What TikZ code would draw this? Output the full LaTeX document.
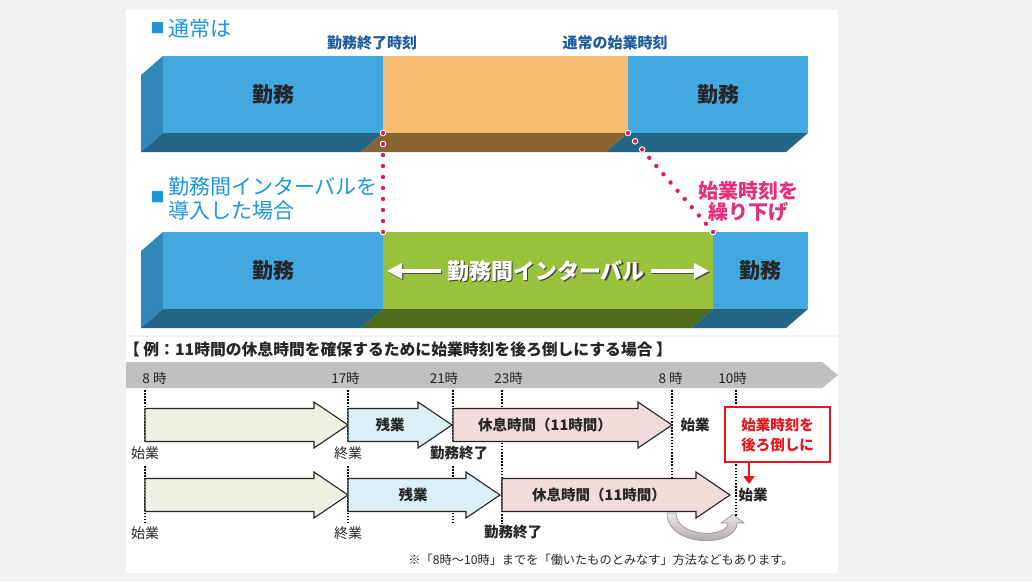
\documentclass[tikz,border=0pt]{standalone}
\usepackage{fontspec}
\newfontfamily\jp{Noto Sans CJK JP}
\usetikzlibrary{arrows.meta,calc}
\definecolor{bfront}{HTML}{41A8E0}
\definecolor{bside}{HTML}{3088B8}
\definecolor{bbot}{HTML}{236688}
\definecolor{ofront}{HTML}{F5BB6F}
\definecolor{obot}{HTML}{876430}
\definecolor{gfront}{HTML}{99C13C}
\definecolor{gbot}{HTML}{4E6B1B}
\definecolor{pinkdot}{HTML}{E0185C}
\definecolor{pinktxt}{HTML}{E3307C}
\definecolor{ttlblue}{HTML}{1E97D9}
\definecolor{lblblue}{HTML}{1D5CA0}
\definecolor{tlgray}{HTML}{C0C0C0}
\definecolor{afillA}{HTML}{EEF1E2}
\definecolor{afillB}{HTML}{DCEEF6}
\definecolor{afillC}{HTML}{F2DCDB}
\definecolor{redbx}{HTML}{E8141B}
\definecolor{bg}{HTML}{F2F2F2}
\definecolor{txt}{HTML}{262626}
\definecolor{curvA}{HTML}{EFE8E8}
\definecolor{curvB}{HTML}{A39C9C}
\newcommand\fsz[1]{\fontsize{#1}{#1}\selectfont}
\newcommand\slab[6]{%
  \fill[#6] (#1,#4) -- (#2,#4) -- (#2-22,#4+19) -- (#1-22,#4+19) -- cycle;
  \fill[#5] (#1,#3) rectangle (#2,#4);}
\newcommand\tlarrow[4]{%
  \filldraw[tlline, fill=#4] (#1,#3-16.5) -- (#2-34,#3-16.5) -- (#2-34,#3-23) -- (#2,#3) -- (#2-34,#3+23) -- (#2-34,#3+16.5) -- (#1,#3+16.5) -- cycle;}
\begin{document}
\begin{tikzpicture}[x=1pt,y=-1pt,
  every node/.style={inner sep=0pt, outer sep=0pt},
  boxtxt/.style={font=\jp\bfseries\fsz{21}, text=txt},
  tltxt/.style={font=\jp\fsz{13.5}, text=txt},
  lbl/.style={font=\jp\fsz{14}, text=txt},
  blbl/.style={font=\jp\bfseries\fsz{14.5}, text=txt},
  ttl/.style={font=\jp\fsz{21}, text=ttlblue, anchor=west},
  sq/.style={font=\jp\fsz{14}, text=ttlblue},
  tlline/.style={draw=txt, line width=1.1pt, line join=miter},
  tdot/.style={black, line width=1.4pt, dash pattern=on 1.5pt off 1.6pt},
  pdot/.style={fill=pinkdot, draw=white, line width=0.9pt}]

\useasboundingbox (0,0) rectangle (1032,581);
\fill[bg] (0,0) rectangle (1032,581);
\fill[white] (126,10) rectangle (838,573);
\draw[bg, line width=1.2pt] (126,336) -- (838,336);

% ---------- top row (normal) ----------
\fill[bside] (141,75) -- (163,56) -- (163,133) -- (141,152) -- cycle;
\slab{163}{383}{56}{133}{bfront}{bbot}
\slab{383}{628}{56}{133}{ofront}{obot}
\slab{628}{808}{56}{133}{bfront}{bbot}
\node[boxtxt] (w1) at (273,95) {勤務};
\node[boxtxt] (w2) at (718,95) {勤務};

% ---------- second row (interval) ----------
\fill[bside] (141,251) -- (163,232) -- (163,309) -- (141,328) -- cycle;
\slab{163}{383}{232}{309}{bfront}{bbot}
\slab{383}{713}{232}{309}{gfront}{gbot}
\slab{713}{808}{232}{309}{bfront}{bbot}
\node[boxtxt] (w3) at (273,271) {勤務};
\node[boxtxt] (w4) at (760,271) {勤務};

% interval label with arrows
\node[font=\jp\bfseries\fsz{22}, text=black!75] (gts) at (547.3,272.3) {勤務間インターバル};
\node[font=\jp\bfseries\fsz{22}, text=white] (gt) at (546,271) {勤務間インターバル};
\coordinate (la1) at (441,271); \coordinate (la2) at (387,271);
\coordinate (ra1) at (651,271); \coordinate (ra2) at (709,271);
\draw[black!70, line width=3.2pt, -{Triangle[length=15pt,width=15pt]}] ($(la1)+(1.3,1.3)$) -- ($(la2)+(1.3,1.3)$);
\draw[black!70, line width=3.2pt, -{Triangle[length=15pt,width=15pt]}] ($(ra1)+(1.3,1.3)$) -- ($(ra2)+(1.3,1.3)$);
\draw[white, line width=3.2pt, -{Triangle[length=15pt,width=15pt]}] (la1) -- (la2);
\draw[white, line width=3.2pt, -{Triangle[length=15pt,width=15pt]}] (ra1) -- (ra2);

% titles
\node[sq] (sq1) at (157.5,28) {■};
\node[ttl] (h1) at (168,29) {通常は};
\node[sq] (sq2) at (157.5,197) {■};
\node[ttl] (h2a) at (168,187) {勤務間インターバルを};
\node[ttl] (h2b) at (168,211) {導入した場合};
\node[font=\jp\bfseries\fsz{15}, text=lblblue] (endl) at (372,43) {勤務終了時刻};
\node[font=\jp\bfseries\fsz{15}, text=lblblue] (startl) at (615,43) {通常の始業時刻};
\node[font=\jp\bfseries\fsz{20}, text=pinktxt] (pk1) at (748,191) {始業時刻を};
\node[font=\jp\bfseries\fsz{20}, text=pinktxt] (pk2) at (748,212) {繰り下げ};

% pink dotted connectors
\coordinate (e1) at (383,133); \coordinate (e2) at (383,232);
\coordinate (s1) at (628,133); \coordinate (s2) at (713,232);
\foreach \i in {0,...,9} \path[pdot] ($(e1)!\i/9!(e2)$) circle[radius=2.8pt];
\foreach \i in {0,...,12} \path[pdot] ($(s1)!\i/12!(s2)$) circle[radius=2.8pt];

% ---------- example section ----------
\node[font=\jp\bfseries\fsz{15.8}, text=txt, anchor=west] (ex) at (124,349) {【 例：11時間の休息時間を確保するために始業時刻を後ろ倒しにする場合 】};
\fill[tlgray] (126,362) -- (822,362) -- (838,375) -- (822,388) -- (126,388) -- cycle;
\node[tltxt] (t8) at (154.5,378) {8 時};
\node[tltxt] (t17) at (345.5,378) {17時};
\node[tltxt] (t21) at (444,378) {21時};
\node[tltxt] (t23) at (508.5,378) {23時};
\node[tltxt] (t8b) at (670.5,378) {8 時};
\node[tltxt] (t10) at (732.5,378) {10時};

% time dotted lines
\foreach \x/\a/\b in {145/390/442, 145/466/522, 348/390/442, 348/466/522, 453/390/442, 453/466/522, 502/390/524, 672/390/515, 736/390/518}
  \draw[tdot] (\x,\a) -- (\x,\b);

% row 1
\tlarrow{145}{348}{425}{afillA}
\tlarrow{348}{452}{425}{afillB}
\tlarrow{453}{672}{425}{afillC}
\node[blbl] (r1a) at (390,425) {残業};
\node[blbl] (r1b) at (545,425) {休息時間（11時間）};
\node[blbl] (r1c) at (695,425) {始業};
\node[lbl] (r1s) at (145,453) {始業};
\node[lbl] (r1e) at (348,453) {終業};
\node[blbl] (r1k) at (459,453) {勤務終了};

% red box
\node[draw=redbx, line width=1.6pt, fill=white, minimum width=105pt, minimum height=55pt] (rb) at (777.5,434.5) {};
\node[font=\jp\bfseries\fsz{14.5}, text=redbx] (rbt1) at (777.5,425) {始業時刻を};
\node[font=\jp\bfseries\fsz{14.5}, text=redbx] (rbt2) at (777.5,445) {後ろ倒しに};
\coordinate (rtip) at (749,484);
\draw[redbx, line width=2.6pt, -{Triangle[length=8pt,width=11pt]}] (rb.south -| rtip) -- (rtip);

% row 2
\tlarrow{145}{348}{495}{afillA}
\tlarrow{348}{500}{495}{afillB}
\tlarrow{502}{730}{495}{afillC}
\node[blbl] (r2a) at (413,495) {残業};
\node[blbl] (r2b) at (599,495) {休息時間（11時間）};
\node[blbl] (r2c) at (753,495) {始業};
\node[lbl] (r2s) at (145,533) {始業};
\node[lbl] (r2e) at (348,533) {終業};
\node[blbl] (r2k) at (513,532) {勤務終了};

% curved gray arrow
\path[draw=black!45, line width=0.6pt, top color=curvA, bottom color=curvB]
  (667,513) .. controls (667,548) and (737,548) .. (737,523) -- (744,523) -- (733,514.5) -- (721,523) -- (728,523)
  .. controls (728,538) and (676,538) .. (676,513) -- cycle;

% footnote
\node[font=\jp\fsz{12.2}, text=txt] (fn) at (601,560) {※「8時～10時」までを「働いたものとみなす」方法などもあります。};
\end{tikzpicture}
\end{document}
